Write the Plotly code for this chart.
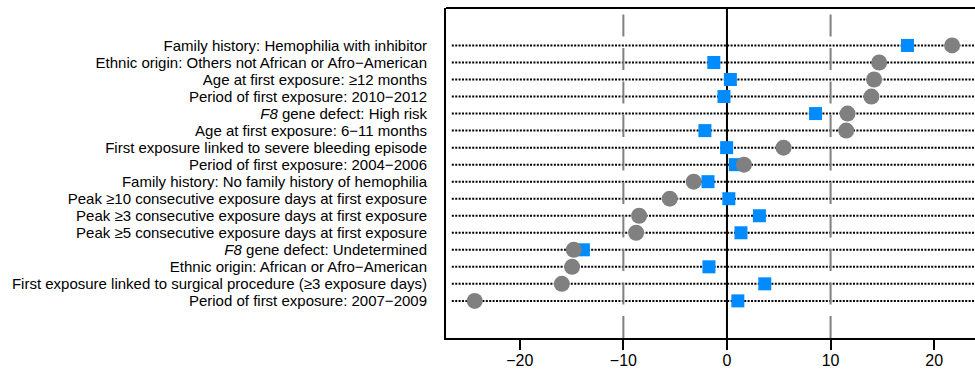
import plotly.graph_objects as go

# Categories, top to bottom
categories = [
    "Family history: Hemophilia with inhibitor",
    "Ethnic origin: Others not African or Afro\u2212American",
    "Age at first exposure: \u226512 months",
    "Period of first exposure: 2010\u22122012",
    "<i>F8</i> gene defect: High risk",
    "Age at first exposure: 6\u221211 months",
    "First exposure linked to severe bleeding episode",
    "Period of first exposure: 2004\u22122006",
    "Family history: No family history of hemophilia",
    "Peak \u226510 consecutive exposure days at first exposure",
    "Peak \u22653 consecutive exposure days at first exposure",
    "Peak \u22655 consecutive exposure days at first exposure",
    "<i>F8</i> gene defect: Undetermined",
    "Ethnic origin: African or Afro\u2212American",
    "First exposure linked to surgical procedure (\u22653 exposure days)",
    "Period of first exposure: 2007\u22122009",
]

# Grey circles
circle_values = [21.73, 14.69, 14.2, 13.94, 11.64, 11.51, 5.46, 1.64,
                 -3.21, -5.52, -8.48, -8.77, -14.79, -14.95, -15.94, -24.35]
# Blue squares
square_values = [17.42, -1.27, 0.33, -0.29, 8.55, -2.13, -0.03, 0.8,
                 -1.83, 0.18, 3.13, 1.35, -13.86, -1.74, 3.65, 1.05]

x_tickvals = [-20, -10, 0, 10, 20]
x_ticktext = ["\u221220", "\u221210", "0", "10", "20"]
ref_lines = [-10, 10]

n = len(categories)
ypos = [n - i for i in range(n)]

FONT = "Liberation Sans, Arial, Helvetica, sans-serif"
GREY = "#808080"
BLUE = "#008CFF"

fig = go.Figure()

fig.add_trace(go.Scatter(
    x=square_values, y=ypos, mode="markers",
    marker=dict(symbol="square", size=13, color=BLUE, line=dict(width=0)),
    showlegend=False, hoverinfo="skip"))
fig.add_trace(go.Scatter(
    x=circle_values, y=ypos, mode="markers",
    marker=dict(symbol="circle", size=16, color=GREY, line=dict(width=0)),
    showlegend=False, hoverinfo="skip"))

shapes = []
# dotted row lines
for y in ypos:
    shapes.append(dict(type="line", xref="paper", yref="y", x0=0.011, x1=1.0,
                       y0=y, y1=y, layer="below",
                       line=dict(color="black", width=2, dash="2px,1.4px")))
# dashed reference lines
for v in ref_lines:
    shapes.append(dict(type="line", xref="x", yref="paper", x0=v, x1=v,
                       y0=0, y1=1, layer="below",
                       line=dict(color=GREY, width=2, dash="22px,11.5px")))
# zero line
shapes.append(dict(type="line", xref="x", yref="paper", x0=0, x1=0,
                   y0=0, y1=1, layer="below",
                   line=dict(color="black", width=2)))
# top border
shapes.append(dict(type="line", xref="paper", yref="paper", x0=0, x1=1.01,
                   y0=1, y1=1, line=dict(color="black", width=2)))

fig.update_layout(
    width=975, height=371,
    margin=dict(l=446, r=0, t=8, b=33, pad=0),
    paper_bgcolor="white", plot_bgcolor="white",
    shapes=shapes,
    font=dict(family=FONT, color="black"),
    xaxis=dict(range=[-27.12, 23.94], tickvals=x_tickvals, ticktext=x_ticktext,
               showgrid=False, zeroline=False, showline=True, linecolor="black",
               linewidth=2, ticks="outside", ticklen=10, tickwidth=2,
               tickcolor="black", tickfont=dict(size=16, family=FONT),
               ticklabelstandoff=-3, automargin=False),
    yaxis=dict(range=[-1.18, 18.2], tickvals=ypos, ticktext=categories,
               showgrid=False, zeroline=False, showline=True, linecolor="black",
               linewidth=2, ticks="", ticklabelstandoff=14,
               tickfont=dict(size=15, family=FONT), automargin=False),
)

fig.write_html(
    "out.html",
    config={"displayModeBar": False, "staticPlot": True},
    post_script="document.body.style.margin='0';document.body.style.overflow='hidden';",
)
